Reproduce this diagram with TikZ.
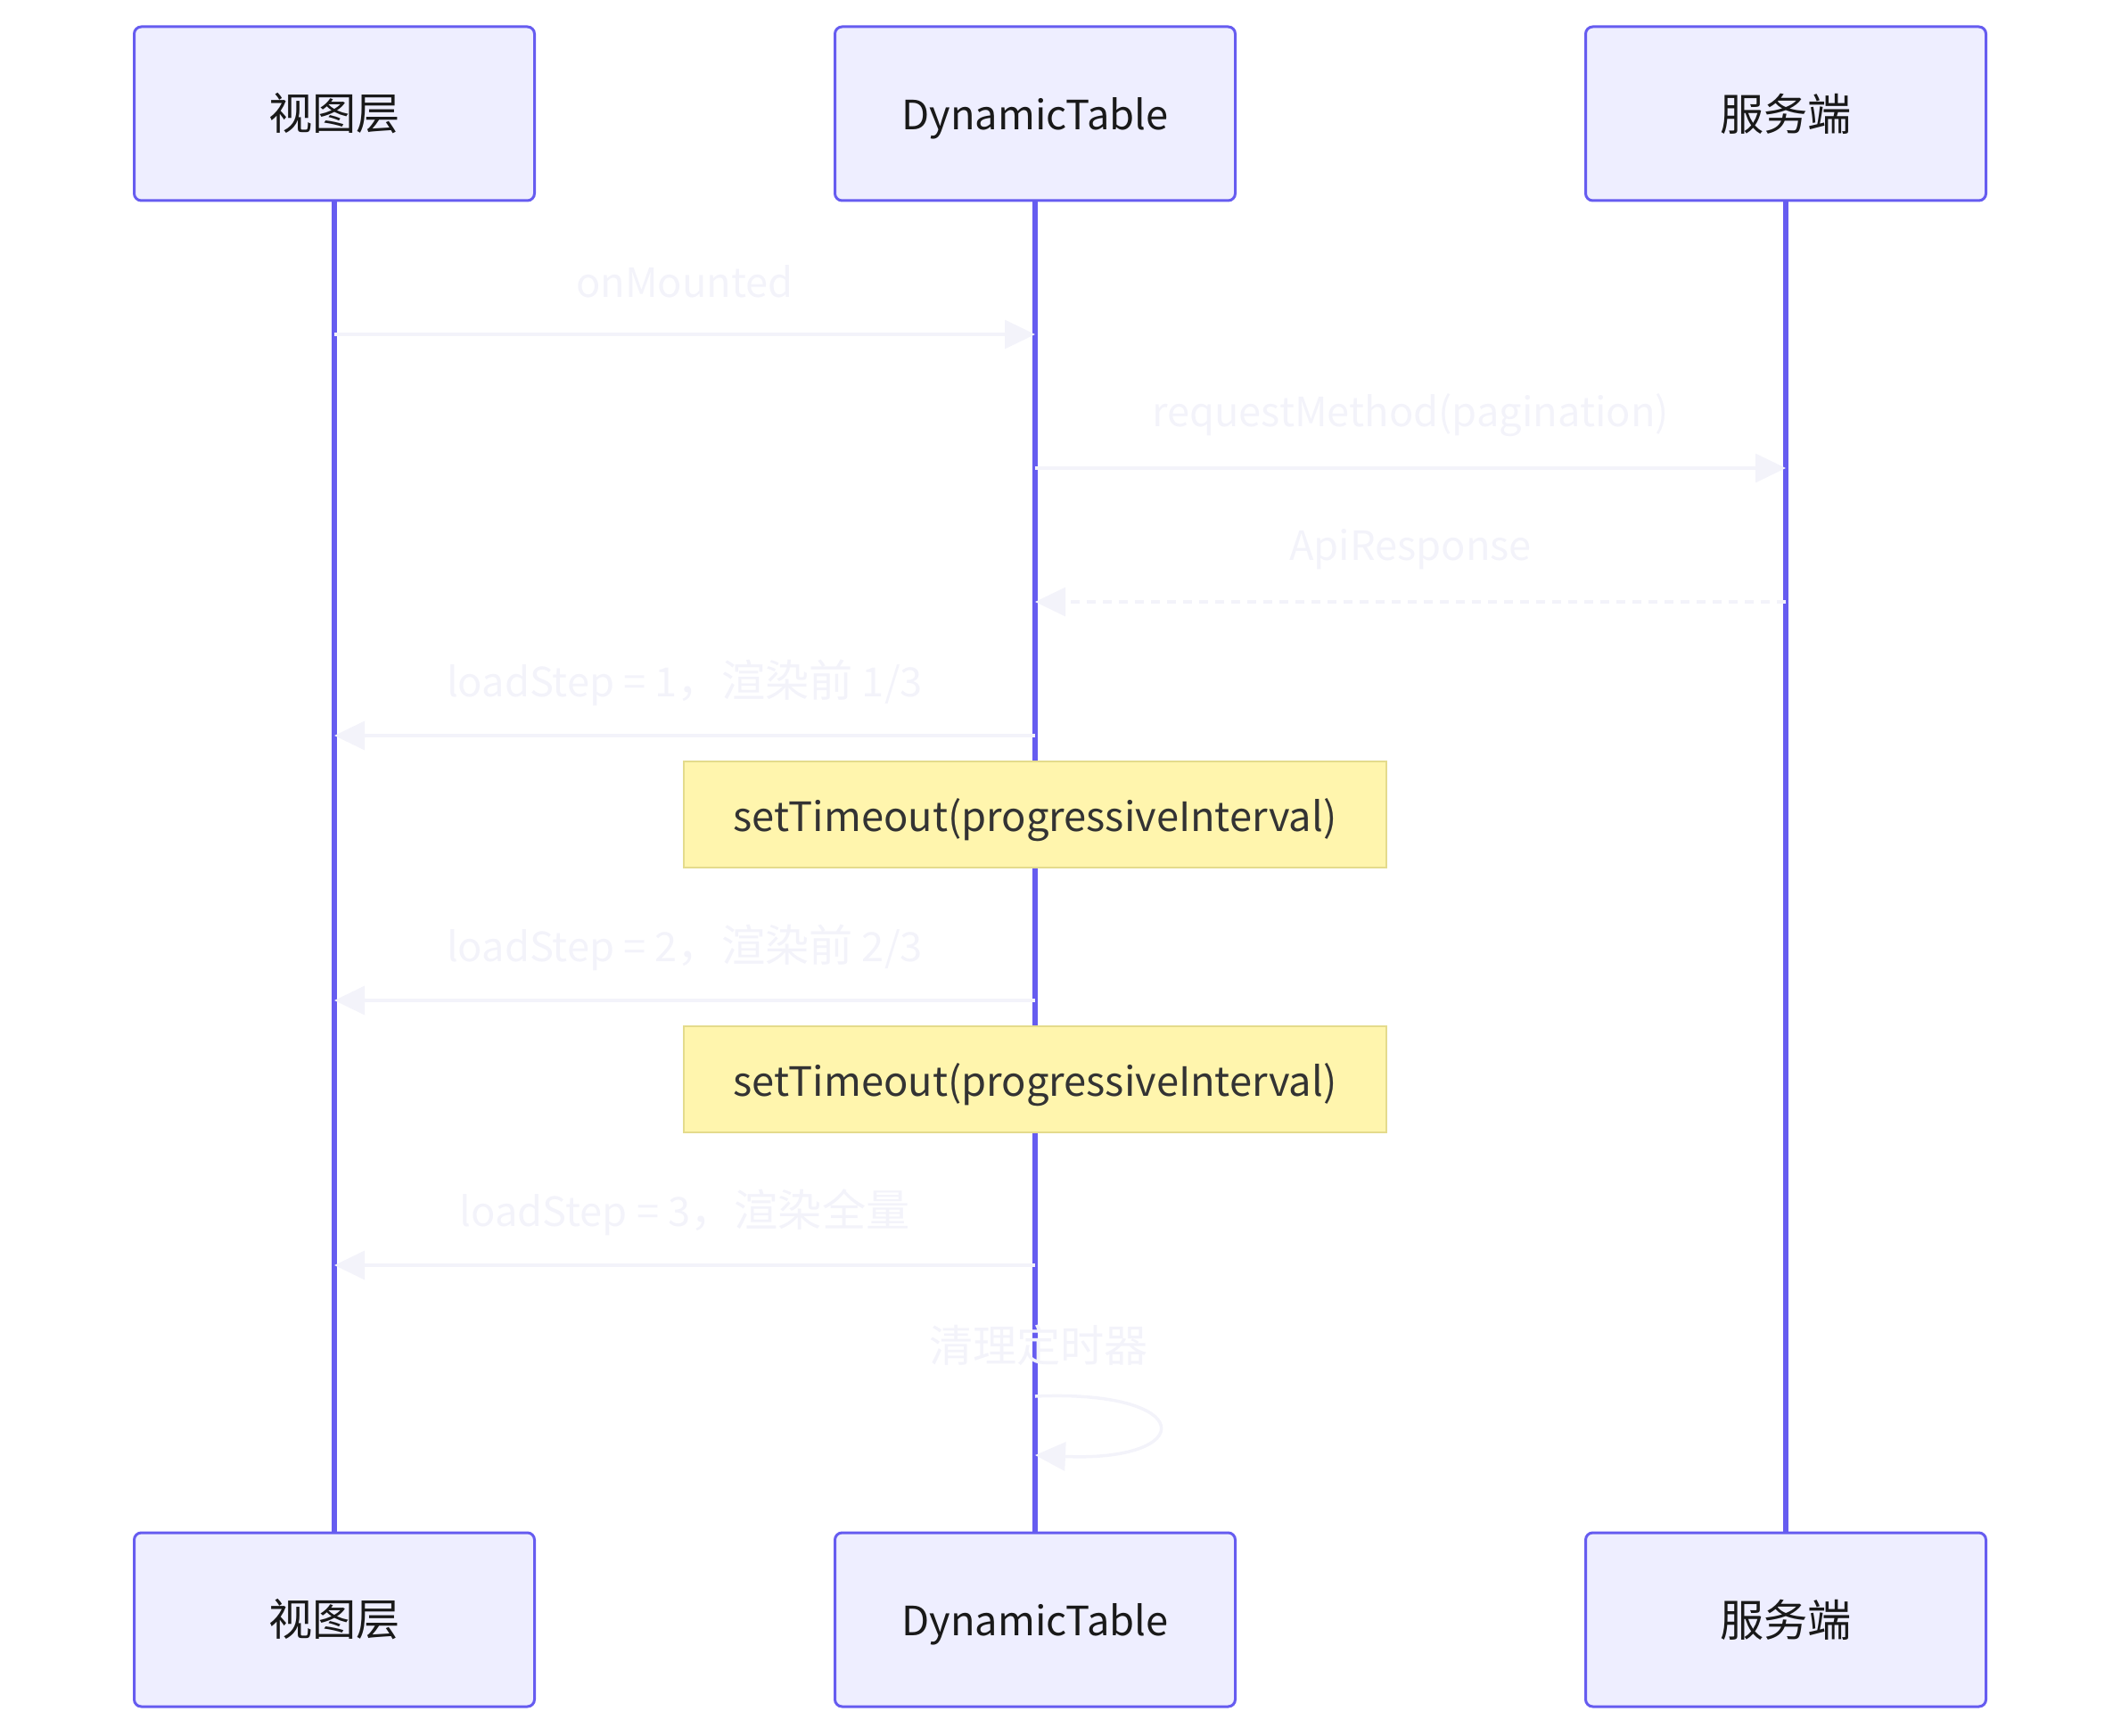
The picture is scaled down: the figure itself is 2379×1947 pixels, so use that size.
\documentclass[tikz,border=0pt]{standalone}
\usepackage{fontspec}
\setmainfont{Noto Sans CJK SC}[Scale=0.92]
\newfontfamily\zh{Noto Sans CJK SC}
\usetikzlibrary{arrows.meta}
\definecolor{lifeline}{RGB}{102,92,240}
\definecolor{actorfill}{RGB}{238,238,255}
\definecolor{notefill}{RGB}{255,245,173}
\definecolor{noteline}{RGB}{228,219,140}
\definecolor{msgcol}{RGB}{243,243,250}
\begin{document}
\begin{tikzpicture}[x=0.1mm,y=-0.1mm,
    actor/.style={draw=lifeline,fill=actorfill,line width=0.3mm,rounded corners=0.8mm,
      minimum width=44.9mm,minimum height=19.5mm,font=\fontsize{14}{16}\selectfont,text=black!90},
    note/.style={draw=noteline,fill=notefill,line width=0.25mm,minimum width=78.8mm,
      minimum height=11.9mm,text depth=0pt,font=\fontsize{14}{16}\selectfont,text=black!80},
    life/.style={draw=lifeline,line width=0.65mm},
    msg/.style={draw=msgcol,line width=0.35mm,-{Triangle[length=3.4mm,width=3.2mm]}},
    reply/.style={msg,dash pattern=on 1mm off 0.8mm},
    lbl/.style={text=msgcol,font=\fontsize{14}{16}\selectfont}]
  \useasboundingbox (0,0) rectangle (2379,1947);

  % participants, top and bottom
  \node[actor] (view) at (375,127.5) {\zh 视图层};
  \node[actor,text depth=0pt] (table) at (1161,127.5) {DynamicTable};
  \node[actor] (server) at (2003,127.5) {\zh 服务端};
  \node[actor] (viewb) at (375,1816.5) {\zh 视图层};
  \node[actor,text depth=0pt] (tableb) at (1161,1816.5) {DynamicTable};
  \node[actor] (serverb) at (2003,1816.5) {\zh 服务端};

  \draw[life] (view) -- (viewb);
  \draw[life] (table) -- (tableb);
  \draw[life] (server) -- (serverb);

  % points on the lifelines
  \foreach \y/\n in {375/1,525/2,675/3,825/4,1122/5,1419/6,1566/7,1632/8} {
    \coordinate (v\n) at (375,\y);
    \coordinate (t\n) at (1161,\y);
    \coordinate (s\n) at (2003,\y);
  }

  \draw[msg] (v1) -- node[lbl,midway,yshift=5.9mm] {onMounted} (t1);
  \draw[msg] (t2) -- node[lbl,midway,yshift=5.9mm] {requestMethod(pagination)} (s2);
  \draw[reply] (s3) -- node[lbl,midway,yshift=5.9mm] {ApiResponse} (t3);
  \draw[msg] (t4) -- node[lbl,midway,yshift=5.9mm] {loadStep = 1{\zh ，渲染前} 1/3} (v4);
  \node[note] (wait1) at (1161,913.5) {setTimeout(progressiveInterval)};
  \draw[msg] (t5) -- node[lbl,midway,yshift=5.9mm] {loadStep = 2{\zh ，渲染前} 2/3} (v5);
  \node[note] (wait2) at (1161,1210.5) {setTimeout(progressiveInterval)};
  \draw[msg] (t6) -- node[lbl,midway,yshift=5.9mm] {loadStep = 3{\zh ，渲染全量}} (v6);

  % self message
  \node[lbl] (clear) at (1165,1509) {\zh 清理定时器};
  \draw[msg] (t7) .. controls (1344,1558) and (1344,1640) .. (t8);
\end{tikzpicture}
\end{document}
